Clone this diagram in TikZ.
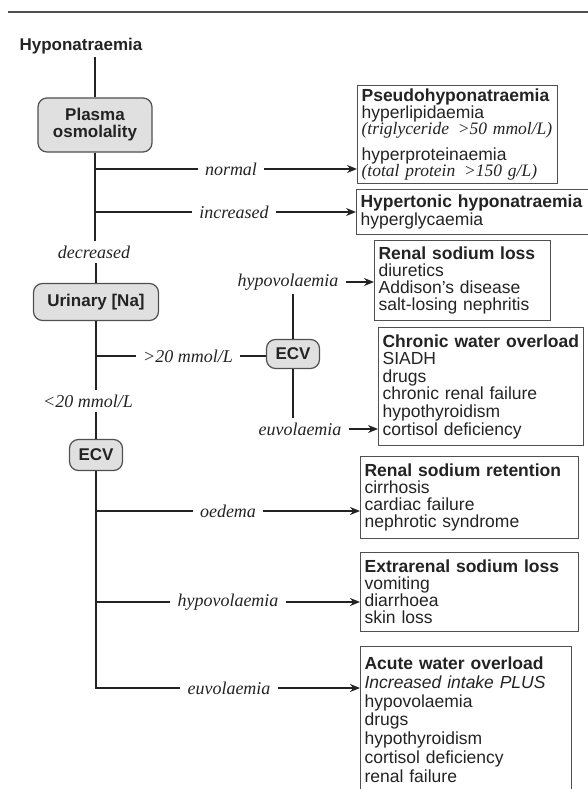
\documentclass[tikz,border=0pt]{standalone}
\usepackage{fontspec}
\setmainfont{Liberation Serif}
\setsansfont{Liberation Sans}
\usetikzlibrary{arrows.meta}
\definecolor{inkgrey}{RGB}{35, 35, 35}
\definecolor{framegrey}{RGB}{80, 80, 80}
\definecolor{shadegrey}{RGB}{224, 224, 224}

\begin{document}
\begin{tikzpicture}[x=1pt, y=-1pt,
    decision/.style={draw=framegrey, fill=shadegrey, rounded corners=9pt, line width=1.2pt, align=center, text=inkgrey,
                     font=\sffamily\bfseries\fontsize{17}{17}\selectfont},
    outcome/.style={draw=framegrey, line width=1.2pt, anchor=north west, align=left, inner xsep=4pt, text=inkgrey,
                    font=\sffamily\fontsize{17.5}{#1}\selectfont},
    outcome/.default=17,
    branch/.style={inner xsep=7pt, inner ysep=4pt, text=inkgrey, font=\rmfamily\itshape\fontsize{18}{18}\selectfont},
    wire/.style={draw=inkgrey, line width=2.4pt},
    feed/.style={draw=inkgrey, line width=2pt, -{Stealth[length=10pt, width=8pt]}},
]
            \useasboundingbox (0,0) rectangle (588,789);
            \draw[framegrey, line width=1.5pt] (8,12) -- (588,12);
            \node[anchor=west, text=inkgrey, font=\sffamily\bfseries\fontsize{17}{17}\selectfont] (title) at (16,46) {Hyponatraemia};

            % decision steps
            \node[decision, minimum width=114pt, minimum height=54pt] (plasma)  at ( 95,125) {Plasma\\osmolality};
            \node[decision, minimum width=125pt, minimum height=37pt] (urinary) at ( 96,302) {Urinary [Na]};
            \node[decision, minimum width=53pt,  minimum height=29pt] (ecvA)    at (293,354) {ECV};
            \node[decision, minimum width=53pt,  minimum height=31pt] (ecvB)    at ( 96,455) {ECV};

            % branch labels
            \node[branch] (normal)    at (231,169) {normal};
            \node[branch] (increased) at (234,212) {increased};
            \node[branch] (decreased) at ( 94,252) {decreased};
            \node[branch] (above20)   at (188,356) {>20 mmol/L};
            \node[branch] (below20)   at ( 88,401) {<20 mmol/L};
            \node[branch] (hypoA)     at (288,282) {hypovolaemia};
            \node[branch] (euvoA)     at (300,429) {euvolaemia};
            \node[branch] (oedema)    at (228,511) {oedema};
            \node[branch] (hypoB)     at (228,602) {hypovolaemia};
            \node[branch] (euvoB)     at (229,688) {euvolaemia};

            % outcome boxes
            \node[outcome=16, text width=192pt, minimum height=95pt] (pseudo) at (357,85)
                {{\bfseries Pseudohyponatraemia}\\hyperlipidaemia\\{\rmfamily\itshape (triglyceride \,>50 mmol/L)}\\[8pt]
                 hyperproteinaemia\\{\rmfamily\itshape (total protein \,>150 g/L)}};
            \node[outcome=16, text width=240pt, minimum height=45pt] (hypertonic) at (356,189)
                {{\bfseries Hypertonic hyponatraemia}\\hyperglycaemia};
            \node[outcome, text width=168pt, minimum height=80pt] (renalloss) at (374,240)
                {{\bfseries Renal sodium loss}\\diuretics\\Addison's disease\\salt-losing nephritis};
            \node[outcome=17.6, text width=197pt, minimum height=118pt] (chronic) at (378,327)
                {{\bfseries Chronic water overload}\\SIADH\\drugs\\chronic renal failure\\hypothyroidism\\cortisol deficiency};
            \node[outcome, text width=210pt, minimum height=82pt] (retention) at (360,456)
                {{\bfseries Renal sodium retention}\\cirrhosis\\cardiac failure\\nephrotic syndrome};
            \node[outcome, text width=210pt, minimum height=79pt] (extrarenal) at (360,552)
                {{\bfseries Extrarenal sodium loss}\\vomiting\\diarrhoea\\skin loss};
            \node[outcome=18.8, text width=203pt, minimum height=146pt] (acute) at (360,646)
                {{\bfseries Acute water overload}\\\textit{Increased intake PLUS}\\hypovolaemia\\drugs\\hypothyroidism\\cortisol deficiency\\renal failure};

            % plasma osmolality
            \draw[wire] (title.south -| plasma.north) -- (plasma.north);
            \draw[wire] (plasma.south) -- (decreased.north -| plasma.south);
            \draw[wire] (plasma.south |- normal.west) -- (normal.west);
            \draw[feed] (normal.east) -- (normal.east -| pseudo.west);
            \draw[wire] (plasma.south |- increased.west) -- (increased.west);
            \draw[feed] (increased.east) -- (increased.east -| hypertonic.west);

            % urinary sodium
            \draw[wire] (decreased.south -| urinary.north) -- (urinary.north);
            \draw[wire] (urinary.south) -- (urinary.south |- below20.north);
            \draw[wire] (urinary.south |- above20.west) -- (above20.west);
            \draw[wire] (above20.east) -- (above20.east -| ecvA.west);
            \draw[wire] (ecvA.north) -- (ecvA.north |- hypoA.south);
            \draw[feed] (hypoA.east) -- (hypoA.east -| renalloss.west);
            \draw[wire] (ecvA.south) -- (ecvA.south |- euvoA.north);
            \draw[feed] (euvoA.east) -- (euvoA.east -| chronic.west);

            % extracellular volume
            \draw[wire] (below20.south -| ecvB.north) -- (ecvB.north);
            \draw[wire] (ecvB.south) -- (ecvB.south |- euvoB.west) -- (euvoB.west);
            \draw[wire] (ecvB.south |- oedema.west) -- (oedema.west);
            \draw[feed] (oedema.east) -- (oedema.east -| retention.west);
            \draw[wire] (ecvB.south |- hypoB.west) -- (hypoB.west);
            \draw[feed] (hypoB.east) -- (hypoB.east -| extrarenal.west);
            \draw[feed] (euvoB.east) -- (euvoB.east -| acute.west);
        \end{tikzpicture}
\end{document}
